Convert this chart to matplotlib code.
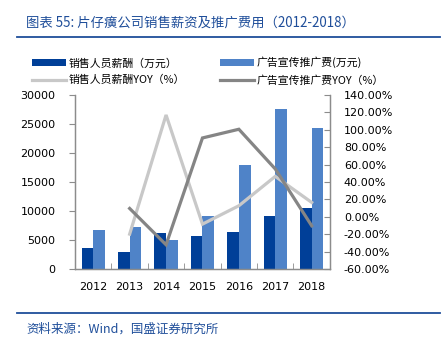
import matplotlib

matplotlib.use("Agg")
import matplotlib.pyplot as plt
import numpy as np
from matplotlib.lines import Line2D
from matplotlib.patches import Patch
from matplotlib.ticker import FuncFormatter, MultipleLocator

plt.rcParams["font.family"] = ["DejaVu Sans", "Noto Sans CJK SC"]
CJK = ["Noto Sans CJK SC", "DejaVu Sans"]

years = ["2012", "2013", "2014", "2015", "2016", "2017", "2018"]
salary = [3670, 2980, 6150, 5640, 6330, 9090, 10520]          # 销售人员薪酬（万元）
promotion = [6670, 7240, 4950, 9140, 17880, 27530, 24310]     # 广告宣传推广费（万元）
salary_yoy = [np.nan, -19.8, 117.0, -8.3, 12.8, 46.5, 16.6]    # %
promotion_yoy = [np.nan, 9.7, -32.0, 90.6, 100.6, 55.0, -10.2]  # %

DARK_BLUE = "#003f98"
LIGHT_BLUE = "#4f83c8"
LIGHT_GRAY = "#c8c8c8"
DARK_GRAY = "#858585"
TITLE_BLUE = "#1f4e9a"
AXIS_GRAY = "#8c8c8c"

fig = plt.figure(figsize=(4.44, 3.39), dpi=100)
ax = fig.add_axes([0.169, 0.206, 0.574, 0.514])
ax2 = ax.twinx()

x = np.arange(len(years))
w = 0.32
ax.bar(x - w / 2, salary, width=w, color=DARK_BLUE, zorder=2)
ax.bar(x + w / 2, promotion, width=w, color=LIGHT_BLUE, zorder=2)

ax2.plot(x, salary_yoy, color=LIGHT_GRAY, linewidth=2.3, solid_joinstyle="miter")
ax2.plot(x, promotion_yoy, color=DARK_GRAY, linewidth=2.3, solid_joinstyle="miter")

ax.set_xlim(-0.5, len(years) - 0.5)
ax.set_ylim(0, 30000)
ax.yaxis.set_major_locator(MultipleLocator(5000))
ax2.set_ylim(-60, 140)
ax2.yaxis.set_major_locator(MultipleLocator(20))
ax2.yaxis.set_major_formatter(FuncFormatter(lambda v, _: f"{v:.2f}%"))

ax.set_xticks(x)
ax.set_xticklabels(years)
ax.set_xticks(np.arange(-0.5, len(years)), minor=True)
ax.tick_params(axis="x", which="major", length=0, pad=9, labelsize=8)
ax.tick_params(axis="x", which="minor", length=4, direction="in", color=AXIS_GRAY)
ax.tick_params(axis="y", length=4, direction="out", color=AXIS_GRAY, labelsize=8, pad=10)
ax2.tick_params(axis="y", length=4, direction="in", color=AXIS_GRAY, labelsize=8, pad=10)

for a in (ax, ax2):
    a.spines["top"].set_visible(False)
    for side in ("left", "right", "bottom"):
        a.spines[side].set_color(AXIS_GRAY)
        a.spines[side].set_linewidth(0.9)

handles = [
    Patch(facecolor=DARK_BLUE, label="销售人员薪酬（万元）"),
    Line2D([], [], color=LIGHT_GRAY, linewidth=2.3, label="销售人员薪酬YOY（%）"),
    Patch(facecolor=LIGHT_BLUE, label="广告宣传推广费(万元)"),
    Line2D([], [], color=DARK_GRAY, linewidth=2.3, label="广告宣传推广费YOY（%）"),
]
fig.legend(
    handles=handles,
    ncol=2,
    loc="center left",
    bbox_to_anchor=(0.06, 0.79),
    frameon=False,
    prop={"family": CJK, "size": 7.8},
    handlelength=3.1,
    handleheight=0.6,
    handletextpad=0.3,
    columnspacing=3.2,
    labelspacing=0.6,
    borderpad=0,
)

fig.text(0.058, 0.932, "图表 55: 片仔癀公司销售薪资及推广费用（2012-2018）",
         family=CJK, style="italic", color=TITLE_BLUE, fontsize=9.6, va="center")
fig.add_artist(Line2D([0.038, 0.99], [0.891, 0.891], color=TITLE_BLUE, linewidth=1.3))
fig.add_artist(Line2D([0.038, 0.99], [0.077, 0.077], color=TITLE_BLUE, linewidth=1.3))
fig.text(0.06, 0.030, "资料来源：Wind，国盛证券研究所",
         family=CJK, style="italic", color=TITLE_BLUE, fontsize=9.0, va="center")

fig.savefig("out.png", dpi=100)
